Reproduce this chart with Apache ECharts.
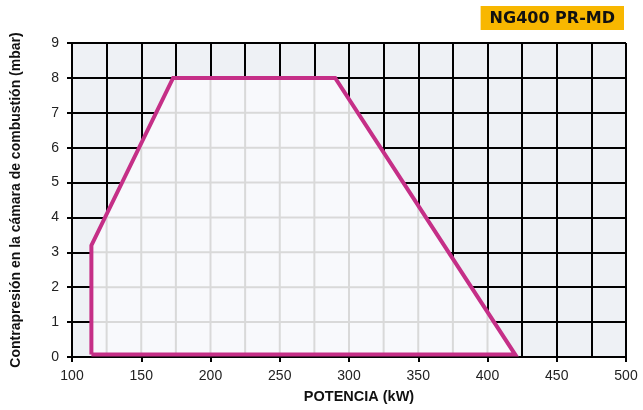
<!DOCTYPE html>
<html>
<head>
<meta charset="utf-8">
<script src="https://cdn.jsdelivr.net/npm/echarts@6/dist/echarts.min.js"></script>
<style>html,body{margin:0;padding:0;background:#fff}#c{width:643px;height:410px}</style>
</head>
<body>
<div id="c"></div>
<script>
// Working field outline (power kW, pressure mbar)
const fieldX = [114, 114, 173, 290, 420];
const fieldY = [0.07, 3.2, 8, 8, 0.07];
const xTicks = [100, 150, 200, 250, 300, 350, 400, 450, 500];
const yTicks = [0, 1, 2, 3, 4, 5, 6, 7, 8, 9];
const xGridLines = [125, 150, 175, 200, 225, 250, 275, 300, 325, 350, 375, 400, 425, 450, 475];
const yGridLines = [1, 2, 3, 4, 5, 6, 7];
const titleText = 'NG400 PR-MD';

const poly = fieldX.map((x, i) => [x, fieldY[i]]);
function cross(a, b) { return a[0] * b[1] - a[1] * b[0]; }
function clip(p0, p1, P) {
  let area = 0;
  for (let i = 0; i < P.length; i++) area += cross(P[i], P[(i + 1) % P.length]);
  const s = Math.sign(area);
  const d = [p1[0] - p0[0], p1[1] - p0[1]];
  let tE = 0, tL = 1;
  for (let i = 0; i < P.length; i++) {
    const a = P[i], b = P[(i + 1) % P.length];
    const e = [b[0] - a[0], b[1] - a[1]];
    const num = s * cross(e, [p0[0] - a[0], p0[1] - a[1]]);
    const den = s * cross(e, d);
    if (den === 0) { if (num < 0) return null; continue; }
    const t = -num / den;
    if (den > 0) tE = Math.max(tE, t); else tL = Math.min(tL, t);
  }
  if (tE > tL) return null;
  return [p0[0] + tE * d[0], p0[1] + tE * d[1], p0[0] + tL * d[0], p0[1] + tL * d[1]];
}
const segs = [];
xGridLines.forEach(x => { const r = clip([x, 0], [x, 9], poly); if (r) segs.push(r); });
yGridLines.forEach(y => { const r = clip([100, y], [500, y], poly); if (r) segs.push(r); });

const chart = echarts.init(document.getElementById('c'));
const font = 'Liberation Sans, Arial, sans-serif';
chart.setOption({
  animation: false,
  title: {
    text: titleText, right: 19, top: 6,
    backgroundColor: '#f8b700', padding: [4, 9, 3, 9],
    textStyle: { fontFamily: 'DejaVu Sans', fontWeight: 'bold', fontSize: 16, color: '#111', lineHeight: 17 }
  },
  grid: { left: 72, right: 17, top: 43, bottom: 53, show: true, backgroundColor: '#eef1f5', borderWidth: 0 },
  xAxis: {
    type: 'value', min: xTicks[0], max: xTicks[xTicks.length - 1], interval: 50,
    name: 'POTENCIA (kW)', nameLocation: 'middle', nameGap: 32,
    nameTextStyle: { fontFamily: font, fontWeight: 'bold', fontSize: 14.5, color: '#111', padding: [0, 0, 0, 20] },
    axisLine: { lineStyle: { color: '#000', width: 2 } },
    axisTick: { show: true, length: 5, lineStyle: { color: '#000', width: 2 } },
    axisLabel: { fontFamily: font, fontSize: 14, color: '#222', margin: 12 },
    splitLine: { show: true, lineStyle: { color: '#000', width: 2 } },
    minorTick: { show: false, splitNumber: 2 },
    minorSplitLine: { show: true, lineStyle: { color: '#000', width: 2 } }
  },
  yAxis: {
    type: 'value', min: yTicks[0], max: yTicks[yTicks.length - 1], interval: 1,
    name: 'Contrapresión en la cámara de combustión (mbar)', nameLocation: 'middle', nameGap: 49,
    nameTextStyle: { fontFamily: font, fontWeight: 'bold', fontSize: 14, color: '#111' },
    axisLine: { show: true, lineStyle: { color: '#000', width: 2 } },
    axisTick: { show: true, length: 5, lineStyle: { color: '#000', width: 2 } },
    axisLabel: { fontFamily: font, fontSize: 14, color: '#222', margin: 13 },
    splitLine: { show: true, lineStyle: { color: '#000', width: 2 } }
  },
  series: [
    {
      type: 'custom', z: 2, silent: true, data: [0],
      renderItem: (params, api) => ({
        type: 'polygon',
        shape: { points: poly.map(p => api.coord(p)) },
        style: { fill: '#f8f9fc', stroke: 'none' }
      })
    },
    {
      type: 'custom', z: 3, silent: true, data: segs,
      renderItem: (params, api) => {
        const a = api.coord([api.value(0), api.value(1)]);
        const b = api.coord([api.value(2), api.value(3)]);
        return { type: 'line', shape: { x1: a[0], y1: a[1], x2: b[0], y2: b[1] }, style: { stroke: '#d9d9d9', lineWidth: 2 } };
      }
    },
    {
      type: 'line', z: 4, silent: true, symbol: 'none',
      data: poly.concat([poly[0]]),
      lineStyle: { color: '#c52f87', width: 4, join: 'miter' }
    }
  ]
});
</script>
</body>
</html>
